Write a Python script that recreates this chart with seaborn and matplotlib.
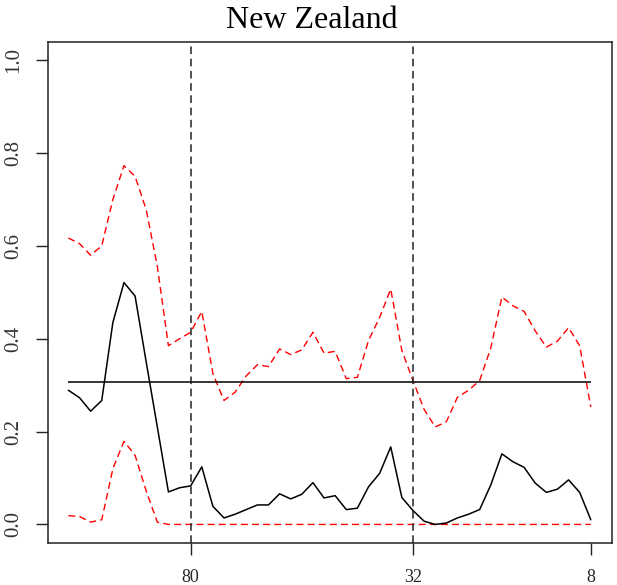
import numpy as np
import pandas as pd
import matplotlib
matplotlib.use("Agg")
import matplotlib.pyplot as plt
import seaborn as sns

# Estimated series (index 1..48) with upper / lower bounds
estimate = [0.289, 0.273, 0.244, 0.267, 0.435, 0.521, 0.492, 0.350, 0.210, 0.070,
            0.079, 0.083, 0.124, 0.039, 0.014, 0.022, 0.032, 0.042, 0.042, 0.066,
            0.055, 0.065, 0.090, 0.057, 0.062, 0.032, 0.035, 0.081, 0.110, 0.167,
            0.058, 0.030, 0.007, 0.000, 0.003, 0.014, 0.022, 0.032, 0.085, 0.152,
            0.135, 0.123, 0.089, 0.069, 0.076, 0.096, 0.069, 0.010]
upper = [0.617, 0.605, 0.580, 0.600, 0.700, 0.773, 0.750, 0.678, 0.556, 0.385,
         0.400, 0.414, 0.459, 0.325, 0.267, 0.285, 0.320, 0.344, 0.340, 0.378,
         0.366, 0.376, 0.414, 0.369, 0.373, 0.314, 0.317, 0.396, 0.446, 0.507,
         0.375, 0.310, 0.248, 0.210, 0.221, 0.274, 0.289, 0.310, 0.380, 0.490,
         0.471, 0.459, 0.417, 0.382, 0.395, 0.424, 0.385, 0.253]
lower = [0.019, 0.017, 0.005, 0.010, 0.120, 0.179, 0.149, 0.072, 0.005, 0.0,
         0.0, 0.0, 0.0, 0.0, 0.0, 0.0, 0.0, 0.0, 0.0, 0.0,
         0.0, 0.0, 0.0, 0.0, 0.0, 0.0, 0.0, 0.0, 0.0, 0.0,
         0.0, 0.0, 0.0, 0.0, 0.0, 0.0, 0.0, 0.0, 0.0, 0.0,
         0.0, 0.0, 0.0, 0.0, 0.0, 0.0, 0.0, 0.0]
mean_level = 0.307
break_points = [12, 32]
x_tick_pos = [12, 32, 48]
x_tick_labels = ["80", "32", "8"]
y_ticks = [0.0, 0.2, 0.4, 0.6, 0.8, 1.0]

idx = np.arange(1, len(estimate) + 1)
df = pd.DataFrame({"idx": idx, "estimate": estimate, "upper": upper, "lower": lower})

sns.set_theme(style="ticks")
plt.rcParams["font.family"] = ["Liberation Serif", "DejaVu Serif"]

fig = plt.figure(figsize=(6.17, 5.85), dpi=100)
ax = fig.add_axes([47.5 / 617, 1 - 543 / 585, (611.7 - 47.5) / 617, (543 - 41.7) / 585])

dash = (0, (5, 3))
sns.lineplot(data=df, x="idx", y="upper", ax=ax, color="red", lw=1.0, linestyle=dash)
sns.lineplot(data=df, x="idx", y="lower", ax=ax, color="red", lw=1.0, linestyle=dash)
sns.lineplot(data=df, x="idx", y="estimate", ax=ax, color="black", lw=1.1)
ax.hlines(mean_level, idx[0], idx[-1], color="black", lw=1.1)
for b in break_points:
    ax.axvline(b, color="#222222", lw=1.1, linestyle=(0, (5, 3)))

n = len(idx)
pad_x = 0.04 * (n - 1)
ax.set_xlim(1 - pad_x, n + pad_x)
ax.set_ylim(-0.04, 1.04)
ax.set_xticks(x_tick_pos)
ax.set_xticklabels(x_tick_labels, fontsize=13)
ax.set_yticks(y_ticks)
ax.set_yticklabels([f"{v:.1f}" for v in y_ticks], fontsize=15, rotation=90,
                   va="center", color="#333333")
ax.set_xlabel("")
ax.set_ylabel("")
ax.tick_params(axis="both", direction="out", length=8.5, width=1.0, color="#222222")
ax.tick_params(axis="x", pad=10)
ax.tick_params(axis="y", pad=9)
for s in ax.spines.values():
    s.set_visible(True)
    s.set_color("#222222")
    s.set_linewidth(1.1)

fig.text(312 / 617, 1 - 28 / 585, "New Zealand", ha="center", va="baseline",
         fontsize=23, color="black")

fig.savefig("out.png", dpi=100)
